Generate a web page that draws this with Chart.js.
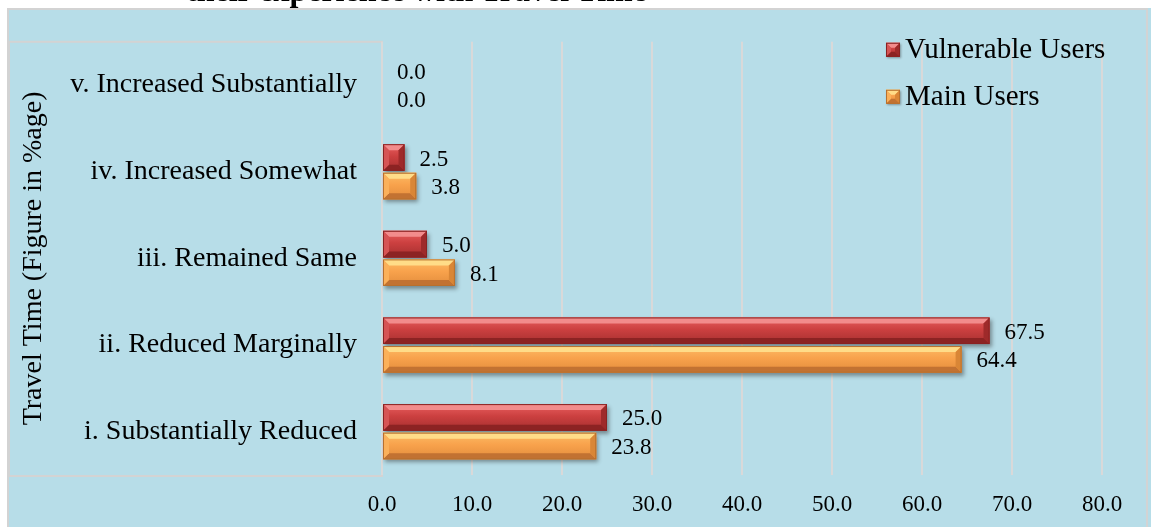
<!DOCTYPE html>
<html>
<head>
<meta charset="utf-8">
<title>Travel Time</title>
<script src="https://cdn.jsdelivr.net/npm/chart.js@4.4.1/dist/chart.umd.min.js"></script>
<style>
  html, body { margin: 0; padding: 0; background: #fff; overflow: hidden; }
  #wrap { position: relative; width: 1151px; height: 527px; }
  #heading {
    position: absolute; left: 4px; width: 825px; top: -26.5px;
    text-align: center; white-space: nowrap; color: #000;
    font: bold 32px 'Liberation Serif', 'Times New Roman', serif; line-height: 32px;
  }
  #chart { position: absolute; left: 0; top: 0; }
</style>
</head>
<body>
<div id="wrap">
  <canvas id="chart" width="1151" height="527"></canvas>
  <div id="heading">their experience with Travel Time</div>
</div>
<script>
// categories, top to bottom
const categories = [
    'v. Increased Substantially',
    'iv. Increased Somewhat',
    'iii. Remained Same',
    'ii. Reduced Marginally',
    'i. Substantially Reduced'
];
const vulnerableUsers = [0.0, 2.5, 5.0, 67.5, 25.0];
const mainUsers = [0.0, 3.8, 8.1, 64.4, 23.8];
const xMin = 0, xMax = 80, xStep = 10;

const serif = "'Liberation Serif', 'Times New Roman', serif";

// shading for the bevelled bars
const redShade = {
    mid: '#cc4040', light: '#e86060', dark: '#a52f2f',
    top: '#f28c8c', bottom: '#8c2323', left: '#d65454', right: '#9e2a2a', edge: '#8a2222'
};
const orangeShade = {
    mid: '#f8a24c', light: '#fdbd66', dark: '#e38c3c',
    top: '#ffdc88', bottom: '#c27232', left: '#fbb05a', right: '#d98636', edge: '#b8702e'
};

function face(ctx, pts, color) {
    ctx.beginPath();
    ctx.moveTo(pts[0][0], pts[0][1]);
    for (let i = 1; i < pts.length; i++) ctx.lineTo(pts[i][0], pts[i][1]);
    ctx.closePath();
    ctx.fillStyle = color;
    ctx.fill();
}

// paint a box with a raised bevel on all four sides
function bevelBox(ctx, left, right, top, bottom, s, size) {
    const w = right - left, h = bottom - top;
    if (w < 1) return;
    const b = Math.min(size, w / 2, h / 2);
    const g = ctx.createLinearGradient(0, top, 0, bottom);
    g.addColorStop(0, s.light);
    g.addColorStop(0.45, s.mid);
    g.addColorStop(1, s.dark);
    ctx.fillStyle = g;
    ctx.fillRect(left, top, w, h);
    face(ctx, [[left, top], [right, top], [right - b, top + b], [left + b, top + b]], s.top);
    face(ctx, [[left, bottom], [right, bottom], [right - b, bottom - b], [left + b, bottom - b]], s.bottom);
    face(ctx, [[left, top], [left + b, top + b], [left + b, bottom - b], [left, bottom]], s.left);
    face(ctx, [[right, top], [right - b, top + b], [right - b, bottom - b], [right, bottom]], s.right);
    ctx.strokeStyle = s.edge;
    ctx.lineWidth = 1;
    ctx.strokeRect(left + 0.5, top + 0.5, w - 1, h - 1);
}

// panel background, outer frame and the frame round the category labels
const panelPlugin = {
    id: 'panel',
    beforeDraw(chart) {
        const ctx = chart.ctx;
        const area = chart.chartArea;
        ctx.save();
        ctx.fillStyle = '#b7dde8';
        ctx.fillRect(7, 8, chart.width - 7, chart.height - 8);
        ctx.strokeStyle = '#d3d3d3';
        ctx.lineWidth = 2;
        ctx.strokeRect(8, 9, chart.width - 12, chart.height);
        ctx.strokeRect(9, area.top, area.left - 9, area.bottom - area.top + 1);
        ctx.restore();
    }
};

// drop shadow under the bars, then bevel and value labels on top of them
const bevelPlugin = {
    id: 'bevel',
    beforeDatasetsDraw(chart) {
        const ctx = chart.ctx;
        ctx.save();
        ctx.shadowColor = 'rgba(40, 40, 40, 0.45)';
        ctx.shadowBlur = 4;
        ctx.shadowOffsetX = 2;
        ctx.shadowOffsetY = 3;
    },
    afterDatasetsDraw(chart) {
        const ctx = chart.ctx;
        ctx.restore();
        ctx.save();
        chart.data.datasets.forEach((ds, i) => {
            chart.getDatasetMeta(i).data.forEach(bar => {
                const p = bar.getProps(['x', 'y', 'base', 'height'], true);
                bevelBox(ctx, Math.min(p.base, p.x), Math.max(p.base, p.x),
                    p.y - p.height / 2, p.y + p.height / 2, ds.shade, 6);
            });
        });
        ctx.fillStyle = '#000';
        ctx.font = '23px ' + serif;
        ctx.textAlign = 'left';
        ctx.textBaseline = 'middle';
        chart.data.datasets.forEach((ds, i) => {
            chart.getDatasetMeta(i).data.forEach((bar, j) => {
                const p = bar.getProps(['x', 'y'], true);
                ctx.fillText(ds.data[j].toFixed(1), p.x + 15, p.y + 2);
            });
        });
        ctx.restore();
    }
};

// stacked legend in the top right corner of the plot
const legendPlugin = {
    id: 'stackLegend',
    afterDraw(chart) {
        const ctx = chart.ctx;
        const area = chart.chartArea;
        const x0 = area.right - 216;
        ctx.save();
        ctx.font = '29px ' + serif;
        ctx.textBaseline = 'middle';
        ctx.textAlign = 'left';
        chart.data.datasets.forEach((ds, i) => {
            const cy = area.top + 8 + i * 47;
            ctx.save();
            ctx.shadowColor = 'rgba(40, 40, 40, 0.4)';
            ctx.shadowBlur = 2;
            ctx.shadowOffsetX = 1;
            ctx.shadowOffsetY = 1;
            ctx.fillStyle = ds.shade.mid;
            ctx.fillRect(x0, cy - 7, 14, 14);
            ctx.restore();
            bevelBox(ctx, x0, x0 + 14, cy - 7, cy + 7, ds.shade, 5);
            ctx.fillStyle = '#000';
            ctx.fillText(ds.label, x0 + 19, cy + 1);
        });
        ctx.restore();
    }
};

const ctx = document.getElementById('chart').getContext('2d');
const chart = new Chart(ctx, {
    type: 'bar',
    data: {
        labels: categories,
        datasets: [
            {
                label: 'Vulnerable Users',
                data: vulnerableUsers,
                backgroundColor: redShade.mid,
                shade: redShade,
                borderWidth: 0
            },
            {
                label: 'Main Users',
                data: mainUsers,
                backgroundColor: orangeShade.mid,
                shade: orangeShade,
                borderWidth: 0
            }
        ]
    },
    options: {
        indexAxis: 'y',
        responsive: false,
        animation: false,
        devicePixelRatio: 1,
        categoryPercentage: 0.66,
        barPercentage: 0.93,
        layout: { padding: { left: 0, top: 40, right: 49, bottom: 0 } },
        plugins: {
            legend: { display: false },
            tooltip: { enabled: false }
        },
        scales: {
            x: {
                min: xMin,
                max: xMax,
                grid: { color: '#d9d9d9', lineWidth: 2, drawTicks: false },
                border: { display: false },
                ticks: {
                    stepSize: xStep,
                    padding: 16,
                    color: '#000',
                    font: { family: serif, size: 23 },
                    callback: v => Number(v).toFixed(1)
                },
                afterFit(scale) { scale.height = 52; }
            },
            y: {
                grid: { display: false, drawTicks: false },
                border: { display: false },
                ticks: {
                    padding: 25,
                    color: '#000',
                    font: { family: serif, size: 28 }
                },
                title: {
                    display: true,
                    text: 'Travel Time (Figure in %age)',
                    color: '#000',
                    font: { family: serif, size: 28 },
                    padding: { top: 17, bottom: 0 }
                },
                afterFit(scale) { scale.width = 382; }
            }
        }
    },
    plugins: [panelPlugin, bevelPlugin, legendPlugin]
});
</script>
</body>
</html>
